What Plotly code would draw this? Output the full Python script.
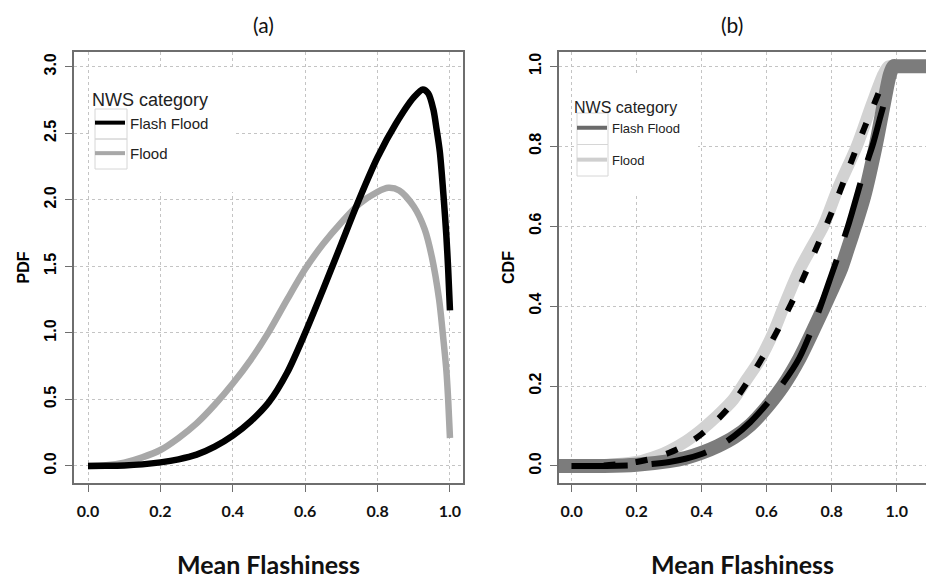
import plotly.graph_objects as go

# ---------------- data ----------------
# (a) PDF curves
pdf_x_flash = [0, .05, .1, .15, .2, .25, .3, .35, .4, .45, .5, .55, .6, .65, .7, .75,
               .8, .85, .9, .925, .94, .954, .963, .972, .983, .99, .995, 1.0]
pdf_flash = [0, .001, .004, .012, .027, .05, .085, .145, .228, .337, .48, .70, 1.0, 1.33,
             1.67, 2.01, 2.32, 2.57, 2.77, 2.83, 2.80, 2.68, 2.53, 2.36, 2.0, 1.73, 1.48, 1.17]

pdf_x_flood = [0, .05, .1, .15, .2, .25, .3, .35, .4, .45, .5, .55, .6, .65, .7, .75,
               .8, .83, .86, .9, .93, .95, .97, .98, .99, .995, 1.0]
pdf_flood = [0, .005, .025, .065, .12, .21, .32, .46, .62, .80, 1.01, 1.25, 1.48, 1.67,
             1.83, 1.97, 2.06, 2.09, 2.07, 1.95, 1.78, 1.57, 1.25, 1.0, .72, .50, .21]

# (b) empirical CDFs (thick bands)
ecdf_x_flash = [-0.1, 0, .1, .2, .3, .35, .4, .45, .5, .55, .6, .65, .7, .75, .8, .83,
                .85, .872, .9, .935, .96, .979, .99, 1.0, 1.2]
ecdf_flash = [0, 0, 0, .003, .012, .02, .033, .05, .072, .103, .147, .2, .268, .352, .44,
              .496, .545, .6, .675, .8, .905, .98, 1.0, 1.0, 1.0]

ecdf_x_flood = [-0.1, 0, .1, .2, .272, .3, .352, .4, .446, .497, .538, .579, .62, .661,
                .70, .74, .774, .82, .877, .923, .959, .975, 1.0]
ecdf_flood = [0, 0, .002, .01, .028, .038, .062, .091, .124, .166, .216, .266, .333, .416,
              .49, .55, .60, .696, .80, .904, .98, 1.0, 1.0]

# (b) fitted CDFs (dashed)
fit_x_flash = [0, .1, .2, .3, .35, .4, .45, .5, .55, .6, .65, .7, .75, .8, .85, .9, .925,
               .95, .974]
fit_flash = [0, 0, .002, .01, .018, .03, .048, .075, .11, .155, .207, .27, .365, .48, .60,
             .74, .80, .875, .946]

fit_x_flood = [0, .1, .2, .25, .3, .35, .4, .45, .5, .55, .6, .65, .7, .75, .8, .85, .9,
               .93, .96]
fit_flood = [0, .001, .01, .019, .033, .052, .08, .117, .162, .222, .29, .365, .448, .54,
             .635, .74, .845, .905, .965]

x_ticks = [0, 0.2, 0.4, 0.6, 0.8, 1.0]
x_ticktext = ["0.0", "0.2", "0.4", "0.6", "0.8", "1.0"]
pdf_ticks = [0, 0.5, 1.0, 1.5, 2.0, 2.5, 3.0]
pdf_ticktext = ["0.0", "0.5", "1.0", "1.5", "2.0", "2.5", "3.0"]
cdf_ticks = [0, 0.2, 0.4, 0.6, 0.8, 1.0]
cdf_ticktext = ["0.0", "0.2", "0.4", "0.6", "0.8", "1.0"]

categories = ["Flash Flood", "Flood"]

# ---------------- styling ----------------
W, H = 926, 582
NARROW = "Liberation Sans Narrow, Arial Narrow, Liberation Sans, sans-serif"
CAL = "Lato, Open Sans, sans-serif"
ARIAL = "Liberation Sans, Arial, sans-serif"
SMOOTH = dict(shape="spline", smoothing=0.8)

fig = go.Figure()

# ---- panel (a)
fig.add_trace(go.Scatter(x=pdf_x_flood, y=pdf_flood, mode="lines", name=categories[1],
                         line=dict(color="#a8a8a8", width=6.5, **SMOOTH), showlegend=False,
                         xaxis="x", yaxis="y"))
fig.add_trace(go.Scatter(x=pdf_x_flash, y=pdf_flash, mode="lines", name=categories[0],
                         line=dict(color="#000000", width=6.5, **SMOOTH), showlegend=False,
                         xaxis="x", yaxis="y"))
# legend entries for (a)
fig.add_trace(go.Scatter(x=[None], y=[None], mode="lines", name=categories[0],
                         line=dict(color="#000000", width=4), legend="legend",
                         legendgroup="a1", xaxis="x", yaxis="y"))
fig.add_trace(go.Scatter(x=[None], y=[None], mode="lines", name=categories[1],
                         line=dict(color="#a8a8a8", width=4), legend="legend",
                         legendgroup="a2", xaxis="x", yaxis="y"))

# ---- panel (b)
fig.add_trace(go.Scatter(x=ecdf_x_flood, y=ecdf_flood, mode="lines", name=categories[1],
                         line=dict(color="#d2d2d2", width=12, **SMOOTH), showlegend=False,
                         xaxis="x2", yaxis="y2"))
fig.add_trace(go.Scatter(x=ecdf_x_flash, y=ecdf_flash, mode="lines", name=categories[0],
                         line=dict(color="#7c7c7c", width=14, **SMOOTH), showlegend=False,
                         xaxis="x2", yaxis="y2"))
fig.add_trace(go.Scatter(x=fit_x_flood, y=fit_flood, mode="lines", name=categories[1] + " fit",
                         line=dict(color="#000000", width=6, dash="12px,20px", **SMOOTH),
                         showlegend=False, xaxis="x2", yaxis="y2"))
fig.add_trace(go.Scatter(x=fit_x_flash, y=fit_flash, mode="lines", name=categories[0] + " fit",
                         line=dict(color="#000000", width=6, dash="56px,24px", **SMOOTH),
                         showlegend=False, xaxis="x2", yaxis="y2"))
fig.add_trace(go.Scatter(x=[None], y=[None], mode="lines", name=categories[0],
                         line=dict(color="#6a6a6a", width=4), legend="legend2",
                         legendgroup="b1", xaxis="x2", yaxis="y2"))
fig.add_trace(go.Scatter(x=[None], y=[None], mode="lines", name=categories[1],
                         line=dict(color="#cfcfcf", width=4), legend="legend2",
                         legendgroup="b2", xaxis="x2", yaxis="y2"))


def px_x(p):
    return p / W


def px_y(p):
    return 1 - p / H


def rect(x0, y0, x1, y1, fill="white", line=None):
    return dict(type="rect", xref="paper", yref="paper", layer="above",
                x0=px_x(x0), x1=px_x(x1), y0=px_y(y1), y1=px_y(y0),
                fillcolor=fill,
                line=dict(width=1, color=line) if line else dict(width=0))


shapes = [
    # legend background boxes (hide the grid, as in the reference)
    rect(92, 70, 233, 192),
    rect(575, 73, 698, 195),
    # legend key boxes
    rect(95, 109, 127, 139, fill="rgba(0,0,0,0)", line="#d6d6d6"),
    rect(95, 139, 127, 169, fill="rgba(0,0,0,0)", line="#d6d6d6"),
    rect(577, 113, 608, 144.5, fill="rgba(0,0,0,0)", line="#d6d6d6"),
    rect(577, 144.5, 608, 176, fill="rgba(0,0,0,0)", line="#d6d6d6"),
]

ydom = [px_y(483), px_y(52)]
axis_common = dict(showgrid=True, gridcolor="#c4c4c4", griddash="dot", gridwidth=1,
                   zeroline=False, showline=True, linecolor="#6e6e6e", linewidth=1.5,
                   ticks="outside", ticklen=7, tickcolor="#6e6e6e", tickwidth=1)

xtick_font = dict(family=CAL, size=16, color="#111", weight="bold")
ytick_font = dict(family=ARIAL, size=16, color="#000", weight="bold")
xtitle_font = dict(family=CAL, size=25, color="#111", weight="bold")
ytitle_font = dict(family=ARIAL, size=16, color="#000", weight="bold")

fig.update_layout(
    width=W, height=H, margin=dict(l=0, r=0, t=0, b=0),
    paper_bgcolor="white", plot_bgcolor="white",
    xaxis=dict(domain=[px_x(74), px_x(463)], range=[-0.0387, 1.036], anchor="y",
               tickvals=x_ticks, ticktext=x_ticktext, mirror=True,
               tickfont=xtick_font, ticklabelstandoff=6,
               title=dict(text="Mean Flashiness", standoff=38, font=xtitle_font),
               **axis_common),
    yaxis=dict(domain=ydom, range=[-0.128, 3.111], anchor="x",
               tickvals=pdf_ticks, ticktext=pdf_ticktext, tickangle=-90, mirror=True,
               tickfont=ytick_font, ticklabelstandoff=3,
               title=dict(text="PDF", standoff=8, font=ytitle_font),
               **axis_common),
    xaxis2=dict(domain=[px_x(559), 1.0], range=[-0.039, 1.09], anchor="y2",
                tickvals=x_ticks, ticktext=x_ticktext, mirror=True,
                tickfont=xtick_font, ticklabelstandoff=6,
                title=dict(text="Mean Flashiness", standoff=38, font=xtitle_font),
                **axis_common),
    yaxis2=dict(domain=ydom, range=[-0.0426, 1.0358], anchor="x2",
                tickvals=cdf_ticks, ticktext=cdf_ticktext, tickangle=-90, mirror=False,
                tickfont=ytick_font, ticklabelstandoff=3,
                title=dict(text="CDF", standoff=8, font=ytitle_font),
                **axis_common),
    legend=dict(x=px_x(90), y=px_y(83), xanchor="left", yanchor="top",
                bgcolor="rgba(0,0,0,0)", borderwidth=0, tracegroupgap=8,
                title=dict(text="NWS category", font=dict(family=NARROW, size=18, color="#222")),
                font=dict(family=NARROW, size=15, color="#222"), itemwidth=30),
    legend2=dict(x=px_x(572), y=px_y(92), xanchor="left", yanchor="top",
                 bgcolor="rgba(0,0,0,0)", borderwidth=0, tracegroupgap=12,
                 title=dict(text="NWS category", font=dict(family=NARROW, size=16, color="#222")),
                 font=dict(family=NARROW, size=13, color="#222"), itemwidth=30),
    shapes=shapes,
    annotations=[
        dict(text="(a)", x=px_x(263), y=px_y(25), xref="paper", yref="paper",
             showarrow=False, xanchor="center", yanchor="middle",
             font=dict(family=CAL, size=21, color="#111")),
        dict(text="(b)", x=px_x(732), y=px_y(25), xref="paper", yref="paper",
             showarrow=False, xanchor="center", yanchor="middle",
             font=dict(family=CAL, size=21, color="#111")),
    ],
)

fig.write_html("out.html")
